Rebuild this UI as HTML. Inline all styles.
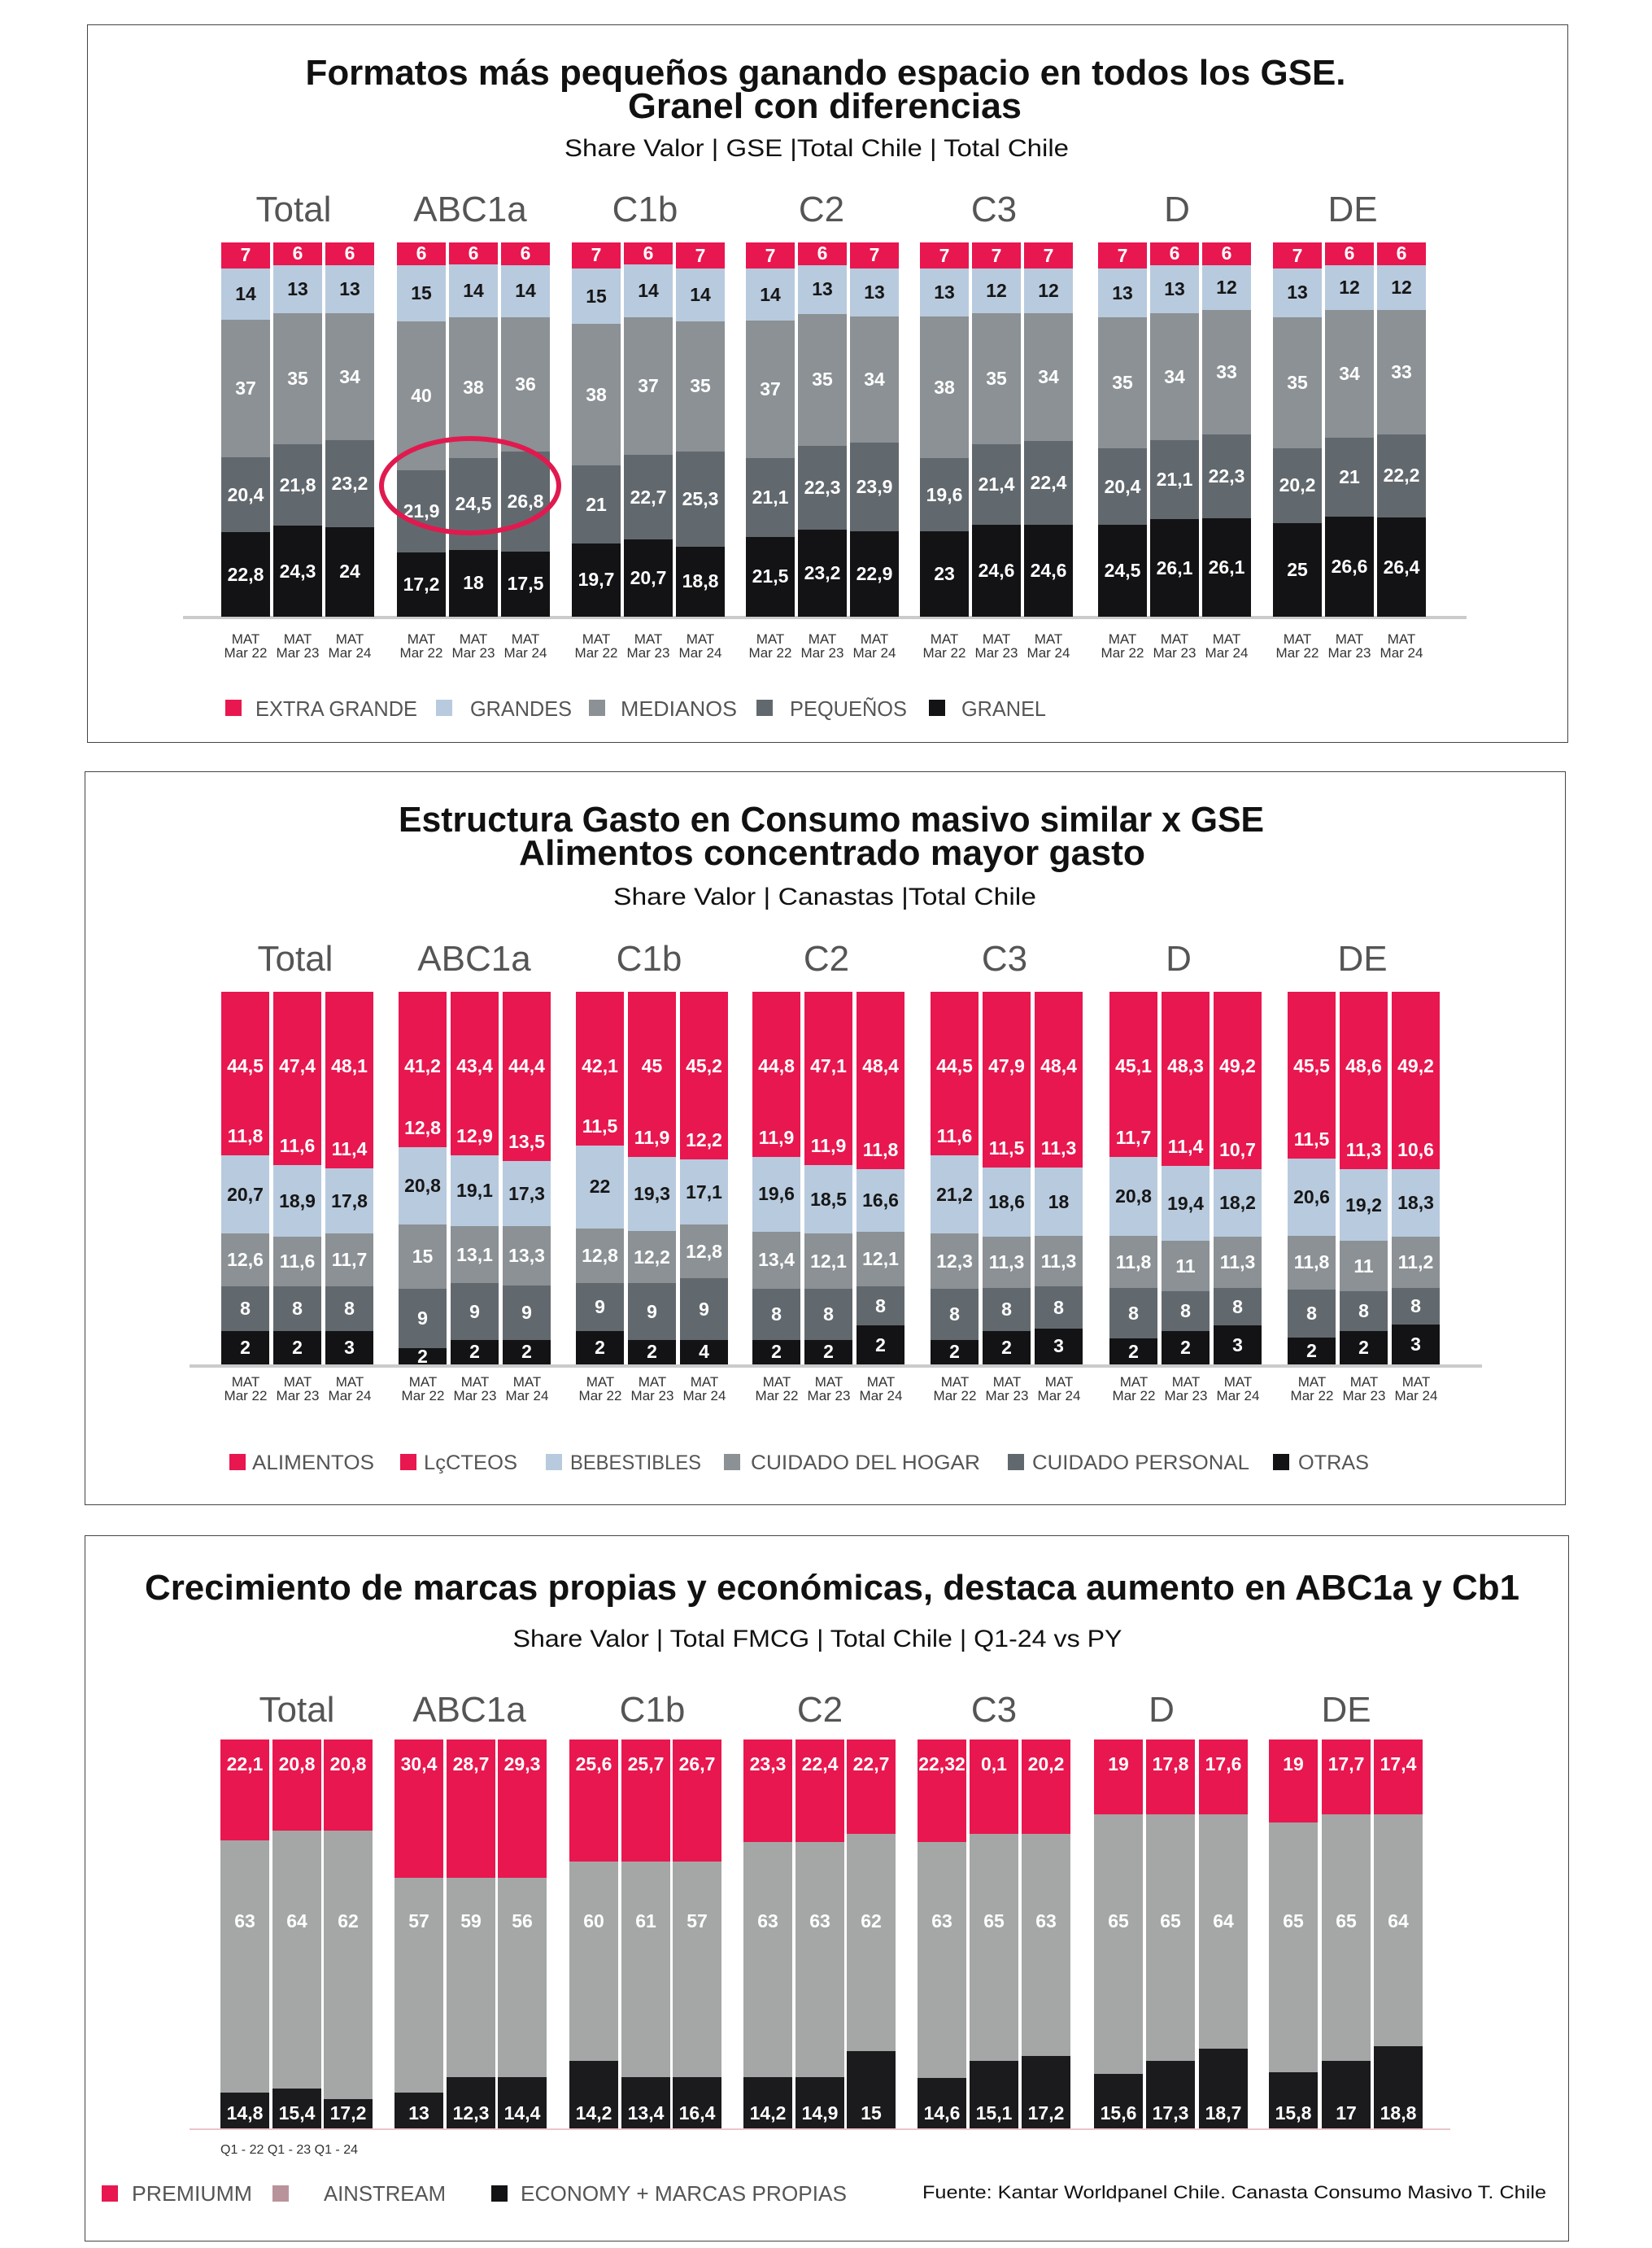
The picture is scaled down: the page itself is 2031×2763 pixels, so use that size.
<!DOCTYPE html>
<html><head><meta charset="utf-8">
<style>
*{margin:0;padding:0;box-sizing:border-box}
body{width:2031px;height:2763px;background:#fff;position:relative;overflow:hidden;font-family:"Liberation Sans",sans-serif}
.pn{position:absolute;border:1.5px solid #444}
.b{position:absolute;display:flex;flex-direction:column;width:60px}
.b>div{display:flex;align-items:center;justify-content:center;color:#fff;font:bold 23px "Liberation Sans Narrow","Liberation Sans",sans-serif;min-height:0;overflow:visible;position:relative}
.p1{top:298px;height:460px}
.p2{top:1219px;height:458px;width:59px}
.p3{top:2138px;height:478px}
.r{background:#e8174f}.l{background:#b8cade;color:#161616!important}.m{background:#8b9194}.d{background:#62696e}.k{background:#131315}
.g{background:#a5a7a7}.e{background:#1b1a1d}
.p2 .r span.a{position:absolute;top:78px;left:0;right:0;text-align:center}
.p2 .r span.c{position:absolute;bottom:10px;left:0;right:0;text-align:center}
.p3 .r{align-items:flex-start;padding-top:17px}
.p3>div.g{position:static}
.p3 .g span{position:absolute;top:210px;left:0;right:0;text-align:center}
.p3 .e{align-items:flex-end;padding-bottom:5px}
.xl{position:absolute;font-size:17px;line-height:17px;color:#333;white-space:nowrap}
.xl span{display:inline-block;width:64px;text-align:center}
.ln{position:absolute}
</style></head><body>
<div class="pn" style="left:107px;top:30px;width:1821px;height:883px"></div>
<div class="pn" style="left:104px;top:948px;width:1821px;height:902px"></div>
<div class="pn" style="left:104px;top:1887px;width:1825px;height:868px"></div>
<div class="ln" style="left:225px;top:757px;width:1578px;height:4px;background:#cbcbcb"></div>
<div class="ln" style="left:233px;top:1677px;width:1589px;height:4px;background:#cbcbcb"></div>
<div class="ln" style="left:233px;top:2616px;width:1550px;height:2px;background:#e9c6cb"></div>

<!-- PANEL 1 -->
<div class="b p1" style="left:272px"><div class="r" style="flex:7">7</div><div class="l" style="flex:14">14</div><div class="m" style="flex:37">37</div><div class="d" style="flex:20.4">20,4</div><div class="k" style="flex:22.8">22,8</div></div>
<div class="b p1" style="left:336px"><div class="r" style="flex:6">6</div><div class="l" style="flex:13">13</div><div class="m" style="flex:35">35</div><div class="d" style="flex:21.8">21,8</div><div class="k" style="flex:24.3">24,3</div></div>
<div class="b p1" style="left:400px"><div class="r" style="flex:6">6</div><div class="l" style="flex:13">13</div><div class="m" style="flex:34">34</div><div class="d" style="flex:23.2">23,2</div><div class="k" style="flex:24">24</div></div>

<div class="b p1" style="left:488px"><div class="r" style="flex:6">6</div><div class="l" style="flex:15">15</div><div class="m" style="flex:40">40</div><div class="d" style="flex:21.9">21,9</div><div class="k" style="flex:17.2">17,2</div></div>
<div class="b p1" style="left:552px"><div class="r" style="flex:6">6</div><div class="l" style="flex:14">14</div><div class="m" style="flex:38">38</div><div class="d" style="flex:24.5">24,5</div><div class="k" style="flex:18">18</div></div>
<div class="b p1" style="left:616px"><div class="r" style="flex:6">6</div><div class="l" style="flex:14">14</div><div class="m" style="flex:36">36</div><div class="d" style="flex:26.8">26,8</div><div class="k" style="flex:17.5">17,5</div></div>

<div class="b p1" style="left:703px"><div class="r" style="flex:7">7</div><div class="l" style="flex:15">15</div><div class="m" style="flex:38">38</div><div class="d" style="flex:21">21</div><div class="k" style="flex:19.7">19,7</div></div>
<div class="b p1" style="left:767px"><div class="r" style="flex:6">6</div><div class="l" style="flex:14">14</div><div class="m" style="flex:37">37</div><div class="d" style="flex:22.7">22,7</div><div class="k" style="flex:20.7">20,7</div></div>
<div class="b p1" style="left:831px"><div class="r" style="flex:7">7</div><div class="l" style="flex:14">14</div><div class="m" style="flex:35">35</div><div class="d" style="flex:25.3">25,3</div><div class="k" style="flex:18.8">18,8</div></div>

<div class="b p1" style="left:917px"><div class="r" style="flex:7">7</div><div class="l" style="flex:14">14</div><div class="m" style="flex:37">37</div><div class="d" style="flex:21.1">21,1</div><div class="k" style="flex:21.5">21,5</div></div>
<div class="b p1" style="left:981px"><div class="r" style="flex:6">6</div><div class="l" style="flex:13">13</div><div class="m" style="flex:35">35</div><div class="d" style="flex:22.3">22,3</div><div class="k" style="flex:23.2">23,2</div></div>
<div class="b p1" style="left:1045px"><div class="r" style="flex:7">7</div><div class="l" style="flex:13">13</div><div class="m" style="flex:34">34</div><div class="d" style="flex:23.9">23,9</div><div class="k" style="flex:22.9">22,9</div></div>

<div class="b p1" style="left:1131px"><div class="r" style="flex:7">7</div><div class="l" style="flex:13">13</div><div class="m" style="flex:38">38</div><div class="d" style="flex:19.6">19,6</div><div class="k" style="flex:23">23</div></div>
<div class="b p1" style="left:1195px"><div class="r" style="flex:7">7</div><div class="l" style="flex:12">12</div><div class="m" style="flex:35">35</div><div class="d" style="flex:21.4">21,4</div><div class="k" style="flex:24.6">24,6</div></div>
<div class="b p1" style="left:1259px"><div class="r" style="flex:7">7</div><div class="l" style="flex:12">12</div><div class="m" style="flex:34">34</div><div class="d" style="flex:22.4">22,4</div><div class="k" style="flex:24.6">24,6</div></div>

<div class="b p1" style="left:1350px"><div class="r" style="flex:7">7</div><div class="l" style="flex:13">13</div><div class="m" style="flex:35">35</div><div class="d" style="flex:20.4">20,4</div><div class="k" style="flex:24.5">24,5</div></div>
<div class="b p1" style="left:1414px"><div class="r" style="flex:6">6</div><div class="l" style="flex:13">13</div><div class="m" style="flex:34">34</div><div class="d" style="flex:21.1">21,1</div><div class="k" style="flex:26.1">26,1</div></div>
<div class="b p1" style="left:1478px"><div class="r" style="flex:6">6</div><div class="l" style="flex:12">12</div><div class="m" style="flex:33">33</div><div class="d" style="flex:22.3">22,3</div><div class="k" style="flex:26.1">26,1</div></div>

<div class="b p1" style="left:1565px"><div class="r" style="flex:7">7</div><div class="l" style="flex:13">13</div><div class="m" style="flex:35">35</div><div class="d" style="flex:20.2">20,2</div><div class="k" style="flex:25">25</div></div>
<div class="b p1" style="left:1629px"><div class="r" style="flex:6">6</div><div class="l" style="flex:12">12</div><div class="m" style="flex:34">34</div><div class="d" style="flex:21">21</div><div class="k" style="flex:26.6">26,6</div></div>
<div class="b p1" style="left:1693px"><div class="r" style="flex:6">6</div><div class="l" style="flex:12">12</div><div class="m" style="flex:33">33</div><div class="d" style="flex:22.2">22,2</div><div class="k" style="flex:26.4">26,4</div></div>

<div class="xl" style="left:270px;top:777px"><span>MAT<br>Mar 22</span><span>MAT<br>Mar 23</span><span>MAT<br>Mar 24</span></div>
<div class="xl" style="left:486px;top:777px"><span>MAT<br>Mar 22</span><span>MAT<br>Mar 23</span><span>MAT<br>Mar 24</span></div>
<div class="xl" style="left:701px;top:777px"><span>MAT<br>Mar 22</span><span>MAT<br>Mar 23</span><span>MAT<br>Mar 24</span></div>
<div class="xl" style="left:915px;top:777px"><span>MAT<br>Mar 22</span><span>MAT<br>Mar 23</span><span>MAT<br>Mar 24</span></div>
<div class="xl" style="left:1129px;top:777px"><span>MAT<br>Mar 22</span><span>MAT<br>Mar 23</span><span>MAT<br>Mar 24</span></div>
<div class="xl" style="left:1348px;top:777px"><span>MAT<br>Mar 22</span><span>MAT<br>Mar 23</span><span>MAT<br>Mar 24</span></div>
<div class="xl" style="left:1563px;top:777px"><span>MAT<br>Mar 22</span><span>MAT<br>Mar 23</span><span>MAT<br>Mar 24</span></div>

<!-- PANEL 2 -->
<div class="b p2" style="left:272px"><div class="r" style="flex:603"><span class="a">44,5</span><span class="c">11,8</span></div><div class="l" style="flex:288">20,7</div><div class="m" style="flex:195">12,6</div><div class="d" style="flex:164">8</div><div class="k" style="flex:123">2</div></div>
<div class="b p2" style="left:336px"><div class="r" style="flex:638"><span class="a">47,4</span><span class="c">11,6</span></div><div class="l" style="flex:265">18,9</div><div class="m" style="flex:183">11,6</div><div class="d" style="flex:164">8</div><div class="k" style="flex:123">2</div></div>
<div class="b p2" style="left:400px"><div class="r" style="flex:651"><span class="a">48,1</span><span class="c">11,4</span></div><div class="l" style="flex:240">17,8</div><div class="m" style="flex:195">11,7</div><div class="d" style="flex:164">8</div><div class="k" style="flex:123">3</div></div>

<div class="b p2" style="left:490px"><div class="r" style="flex:573"><span class="a">41,2</span><span class="c">12,8</span></div><div class="l" style="flex:285">20,8</div><div class="m" style="flex:237">15</div><div class="d" style="flex:218">9</div><div class="k" style="flex:60">2</div></div>
<div class="b p2" style="left:554px"><div class="r" style="flex:603"><span class="a">43,4</span><span class="c">12,9</span></div><div class="l" style="flex:260">19,1</div><div class="m" style="flex:211">13,1</div><div class="d" style="flex:209">9</div><div class="k" style="flex:90">2</div></div>
<div class="b p2" style="left:618px"><div class="r" style="flex:625"><span class="a">44,4</span><span class="c">13,5</span></div><div class="l" style="flex:238">17,3</div><div class="m" style="flex:218">13,3</div><div class="d" style="flex:202">9</div><div class="k" style="flex:90">2</div></div>

<div class="b p2" style="left:708px"><div class="r" style="flex:567"><span class="a">42,1</span><span class="c">11,5</span></div><div class="l" style="flex:304">22</div><div class="m" style="flex:203">12,8</div><div class="d" style="flex:176">9</div><div class="k" style="flex:123">2</div></div>
<div class="b p2" style="left:772px"><div class="r" style="flex:608"><span class="a">45</span><span class="c">11,9</span></div><div class="l" style="flex:273">19,3</div><div class="m" style="flex:193">12,2</div><div class="d" style="flex:209">9</div><div class="k" style="flex:90">2</div></div>
<div class="b p2" style="left:836px"><div class="r" style="flex:618"><span class="a">45,2</span><span class="c">12,2</span></div><div class="l" style="flex:240">17,1</div><div class="m" style="flex:198">12,8</div><div class="d" style="flex:227">9</div><div class="k" style="flex:90">4</div></div>

<div class="b p2" style="left:925px"><div class="r" style="flex:608"><span class="a">44,8</span><span class="c">11,9</span></div><div class="l" style="flex:275">19,6</div><div class="m" style="flex:212">13,4</div><div class="d" style="flex:188">8</div><div class="k" style="flex:90">2</div></div>
<div class="b p2" style="left:989px"><div class="r" style="flex:638"><span class="a">47,1</span><span class="c">11,9</span></div><div class="l" style="flex:253">18,5</div><div class="m" style="flex:204">12,1</div><div class="d" style="flex:188">8</div><div class="k" style="flex:90">2</div></div>
<div class="b p2" style="left:1053px"><div class="r" style="flex:653"><span class="a">48,4</span><span class="c">11,8</span></div><div class="l" style="flex:232">16,6</div><div class="m" style="flex:201">12,1</div><div class="d" style="flex:144">8</div><div class="k" style="flex:143">2</div></div>

<div class="b p2" style="left:1144px"><div class="r" style="flex:603"><span class="a">44,5</span><span class="c">11,6</span></div><div class="l" style="flex:288">21,2</div><div class="m" style="flex:204">12,3</div><div class="d" style="flex:188">8</div><div class="k" style="flex:90">2</div></div>
<div class="b p2" style="left:1208px"><div class="r" style="flex:648"><span class="a">47,9</span><span class="c">11,5</span></div><div class="l" style="flex:255">18,6</div><div class="m" style="flex:188">11,3</div><div class="d" style="flex:159">8</div><div class="k" style="flex:123">2</div></div>
<div class="b p2" style="left:1272px"><div class="r" style="flex:648"><span class="a">48,4</span><span class="c">11,3</span></div><div class="l" style="flex:252">18</div><div class="m" style="flex:186">11,3</div><div class="d" style="flex:155">8</div><div class="k" style="flex:132">3</div></div>

<div class="b p2" style="left:1364px"><div class="r" style="flex:608"><span class="a">45,1</span><span class="c">11,7</span></div><div class="l" style="flex:292">20,8</div><div class="m" style="flex:191">11,8</div><div class="d" style="flex:187">8</div><div class="k" style="flex:95">2</div></div>
<div class="b p2" style="left:1428px"><div class="r" style="flex:643"><span class="a">48,3</span><span class="c">11,4</span></div><div class="l" style="flex:275">19,4</div><div class="m" style="flex:185">11</div><div class="d" style="flex:147">8</div><div class="k" style="flex:123">2</div></div>
<div class="b p2" style="left:1492px"><div class="r" style="flex:653"><span class="a">49,2</span><span class="c">10,7</span></div><div class="l" style="flex:250">18,2</div><div class="m" style="flex:188">11,3</div><div class="d" style="flex:139">8</div><div class="k" style="flex:143">3</div></div>

<div class="b p2" style="left:1583px"><div class="r" style="flex:615"><span class="a">45,5</span><span class="c">11,5</span></div><div class="l" style="flex:283">20,6</div><div class="m" style="flex:200">11,8</div><div class="d" style="flex:177">8</div><div class="k" style="flex:98">2</div></div>
<div class="b p2" style="left:1647px"><div class="r" style="flex:653"><span class="a">48,6</span><span class="c">11,3</span></div><div class="l" style="flex:265">19,2</div><div class="m" style="flex:185">11</div><div class="d" style="flex:147">8</div><div class="k" style="flex:123">2</div></div>
<div class="b p2" style="left:1711px"><div class="r" style="flex:653"><span class="a">49,2</span><span class="c">10,6</span></div><div class="l" style="flex:250">18,3</div><div class="m" style="flex:188">11,2</div><div class="d" style="flex:135">8</div><div class="k" style="flex:147">3</div></div>

<div class="xl" style="left:270px;top:1690px"><span>MAT<br>Mar 22</span><span>MAT<br>Mar 23</span><span>MAT<br>Mar 24</span></div>
<div class="xl" style="left:488px;top:1690px"><span>MAT<br>Mar 22</span><span>MAT<br>Mar 23</span><span>MAT<br>Mar 24</span></div>
<div class="xl" style="left:706px;top:1690px"><span>MAT<br>Mar 22</span><span>MAT<br>Mar 23</span><span>MAT<br>Mar 24</span></div>
<div class="xl" style="left:923px;top:1690px"><span>MAT<br>Mar 22</span><span>MAT<br>Mar 23</span><span>MAT<br>Mar 24</span></div>
<div class="xl" style="left:1142px;top:1690px"><span>MAT<br>Mar 22</span><span>MAT<br>Mar 23</span><span>MAT<br>Mar 24</span></div>
<div class="xl" style="left:1362px;top:1690px"><span>MAT<br>Mar 22</span><span>MAT<br>Mar 23</span><span>MAT<br>Mar 24</span></div>
<div class="xl" style="left:1581px;top:1690px"><span>MAT<br>Mar 22</span><span>MAT<br>Mar 23</span><span>MAT<br>Mar 24</span></div>

<!-- PANEL 3 -->
<div class="b p3" style="left:271px"><div class="r" style="flex:235">22,1</div><div class="g" style="flex:680"><span>63</span></div><div class="e" style="flex:85">14,8</div></div>
<div class="b p3" style="left:335px"><div class="r" style="flex:209">20,8</div><div class="g" style="flex:695"><span>64</span></div><div class="e" style="flex:96">15,4</div></div>
<div class="b p3" style="left:398px"><div class="r" style="flex:209">20,8</div><div class="g" style="flex:723"><span>62</span></div><div class="e" style="flex:68">17,2</div></div>

<div class="b p3" style="left:485px"><div class="r" style="flex:336">30,4</div><div class="g" style="flex:579"><span>57</span></div><div class="e" style="flex:85">13</div></div>
<div class="b p3" style="left:549px"><div class="r" style="flex:336">28,7</div><div class="g" style="flex:537"><span>59</span></div><div class="e" style="flex:127">12,3</div></div>
<div class="b p3" style="left:612px"><div class="r" style="flex:336">29,3</div><div class="g" style="flex:537"><span>56</span></div><div class="e" style="flex:127">14,4</div></div>

<div class="b p3" style="left:700px"><div class="r" style="flex:292">25,6</div><div class="g" style="flex:537"><span>60</span></div><div class="e" style="flex:171">14,2</div></div>
<div class="b p3" style="left:764px"><div class="r" style="flex:292">25,7</div><div class="g" style="flex:581"><span>61</span></div><div class="e" style="flex:127">13,4</div></div>
<div class="b p3" style="left:827px"><div class="r" style="flex:292">26,7</div><div class="g" style="flex:581"><span>57</span></div><div class="e" style="flex:127">16,4</div></div>

<div class="b p3" style="left:914px"><div class="r" style="flex:240">23,3</div><div class="g" style="flex:633"><span>63</span></div><div class="e" style="flex:127">14,2</div></div>
<div class="b p3" style="left:978px"><div class="r" style="flex:240">22,4</div><div class="g" style="flex:633"><span>63</span></div><div class="e" style="flex:127">14,9</div></div>
<div class="b p3" style="left:1041px"><div class="r" style="flex:216">22,7</div><div class="g" style="flex:586"><span>62</span></div><div class="e" style="flex:198">15</div></div>

<div class="b p3" style="left:1128px"><div class="r" style="flex:240">22,32</div><div class="g" style="flex:634"><span>63</span></div><div class="e" style="flex:126">14,6</div></div>
<div class="b p3" style="left:1192px"><div class="r" style="flex:216">0,1</div><div class="g" style="flex:614"><span>65</span></div><div class="e" style="flex:170">15,1</div></div>
<div class="b p3" style="left:1256px"><div class="r" style="flex:216">20,2</div><div class="g" style="flex:599"><span>63</span></div><div class="e" style="flex:185">17,2</div></div>

<div class="b p3" style="left:1345px"><div class="r" style="flex:165">19</div><div class="g" style="flex:700"><span>65</span></div><div class="e" style="flex:135">15,6</div></div>
<div class="b p3" style="left:1409px"><div class="r" style="flex:165">17,8</div><div class="g" style="flex:665"><span>65</span></div><div class="e" style="flex:170">17,3</div></div>
<div class="b p3" style="left:1474px"><div class="r" style="flex:165">17,6</div><div class="g" style="flex:632"><span>64</span></div><div class="e" style="flex:203">18,7</div></div>

<div class="b p3" style="left:1560px"><div class="r" style="flex:186">19</div><div class="g" style="flex:673"><span>65</span></div><div class="e" style="flex:141">15,8</div></div>
<div class="b p3" style="left:1625px"><div class="r" style="flex:165">17,7</div><div class="g" style="flex:665"><span>65</span></div><div class="e" style="flex:170">17</div></div>
<div class="b p3" style="left:1689px"><div class="r" style="flex:165">17,4</div><div class="g" style="flex:625"><span>64</span></div><div class="e" style="flex:210">18,8</div></div>

<svg width="2031" height="2763" style="position:absolute;left:0;top:0" xmlns="http://www.w3.org/2000/svg" font-family="Liberation Sans, sans-serif">
<ellipse cx="578" cy="597" rx="109" ry="58" fill="none" stroke="#e01a4f" stroke-width="6"/>
<g font-weight="bold" fill="#111" text-anchor="middle" font-size="44">
<text x="1015" y="104" textLength="1279" lengthAdjust="spacingAndGlyphs">Formatos más pequeños ganando espacio en todos los GSE.</text>
<text x="1014" y="145" textLength="484" lengthAdjust="spacingAndGlyphs">Granel con diferencias</text>
<text x="1022" y="1022" textLength="1064" lengthAdjust="spacingAndGlyphs">Estructura Gasto en Consumo masivo similar x GSE</text>
<text x="1023" y="1063" textLength="770" lengthAdjust="spacingAndGlyphs">Alimentos concentrado mayor gasto</text>
<text x="1023" y="1966" textLength="1690" lengthAdjust="spacingAndGlyphs">Crecimiento de marcas propias y económicas, destaca aumento en ABC1a y Cb1</text>
</g>
<g fill="#111" text-anchor="middle" font-size="30">
<text x="1004" y="192" textLength="620" lengthAdjust="spacingAndGlyphs">Share Valor | GSE |Total Chile | Total Chile</text>
<text x="1014" y="1112" textLength="520" lengthAdjust="spacingAndGlyphs">Share Valor | Canastas |Total Chile</text>
<text x="1005" y="2024" textLength="749" lengthAdjust="spacingAndGlyphs">Share Valor | Total FMCG | Total Chile | Q1-24 vs PY</text>
</g>
<g fill="#555" text-anchor="middle" font-size="44">
<text x="361" y="272">Total</text><text x="578" y="272">ABC1a</text><text x="793" y="272">C1b</text><text x="1010" y="272">C2</text><text x="1222" y="272">C3</text><text x="1447" y="272">D</text><text x="1663" y="272">DE</text>
<text x="363" y="1193">Total</text><text x="583" y="1193">ABC1a</text><text x="798" y="1193">C1b</text><text x="1016" y="1193">C2</text><text x="1235" y="1193">C3</text><text x="1449" y="1193">D</text><text x="1675" y="1193">DE</text>
<text x="365" y="2116">Total</text><text x="577" y="2116">ABC1a</text><text x="802" y="2116">C1b</text><text x="1008" y="2116">C2</text><text x="1222" y="2116">C3</text><text x="1428" y="2116">D</text><text x="1655" y="2116">DE</text>
</g>
<text x="271" y="2647" font-size="16" fill="#333" textLength="169" lengthAdjust="spacingAndGlyphs">Q1 - 22 Q1 - 23 Q1 - 24</text>
<g font-size="26" fill="#555">
<rect x="277" y="860" width="20" height="20" fill="#e8174f"/><text x="314" y="880" textLength="199" lengthAdjust="spacingAndGlyphs">EXTRA GRANDE</text>
<rect x="536" y="860" width="20" height="20" fill="#b8cade"/><text x="578" y="880" textLength="125" lengthAdjust="spacingAndGlyphs">GRANDES</text>
<rect x="724" y="860" width="20" height="20" fill="#8b9194"/><text x="763" y="880" textLength="143" lengthAdjust="spacingAndGlyphs">MEDIANOS</text>
<rect x="930" y="860" width="20" height="20" fill="#62696e"/><text x="971" y="880" textLength="144" lengthAdjust="spacingAndGlyphs">PEQUEÑOS</text>
<rect x="1142" y="860" width="20" height="20" fill="#131315"/><text x="1182" y="880" textLength="104" lengthAdjust="spacingAndGlyphs">GRANEL</text>
</g>
<g font-size="25" fill="#555">
<rect x="282" y="1787" width="20" height="20" fill="#e8174f"/><text x="310" y="1806" textLength="150" lengthAdjust="spacingAndGlyphs">ALIMENTOS</text>
<rect x="492" y="1787" width="20" height="20" fill="#e8174f"/><text x="521" y="1806" textLength="115" lengthAdjust="spacingAndGlyphs">LçCTEOS</text>
<rect x="671" y="1787" width="20" height="20" fill="#b8cade"/><text x="701" y="1806" textLength="161" lengthAdjust="spacingAndGlyphs">BEBESTIBLES</text>
<rect x="890" y="1787" width="20" height="20" fill="#8b9194"/><text x="923" y="1806" textLength="282" lengthAdjust="spacingAndGlyphs">CUIDADO DEL HOGAR</text>
<rect x="1239" y="1787" width="20" height="20" fill="#62696e"/><text x="1269" y="1806" textLength="267" lengthAdjust="spacingAndGlyphs">CUIDADO PERSONAL</text>
<rect x="1565" y="1787" width="20" height="20" fill="#131315"/><text x="1596" y="1806" textLength="87" lengthAdjust="spacingAndGlyphs">OTRAS</text>
</g>
<g font-size="26" fill="#555">
<rect x="125" y="2686" width="20" height="20" fill="#e8174f"/><text x="162" y="2705" textLength="148" lengthAdjust="spacingAndGlyphs">PREMIUMM</text>
<rect x="335" y="2686" width="20" height="20" fill="#b9939b"/><text x="398" y="2705" textLength="150" lengthAdjust="spacingAndGlyphs">AINSTREAM</text>
<rect x="604" y="2686" width="20" height="20" fill="#131315"/><text x="640" y="2705" textLength="401" lengthAdjust="spacingAndGlyphs">ECONOMY + MARCAS PROPIAS</text>
</g>
<text x="1134" y="2702" font-size="22" fill="#111" textLength="767" lengthAdjust="spacingAndGlyphs">Fuente: Kantar Worldpanel Chile. Canasta Consumo Masivo T. Chile</text>
</svg>
</body></html>
